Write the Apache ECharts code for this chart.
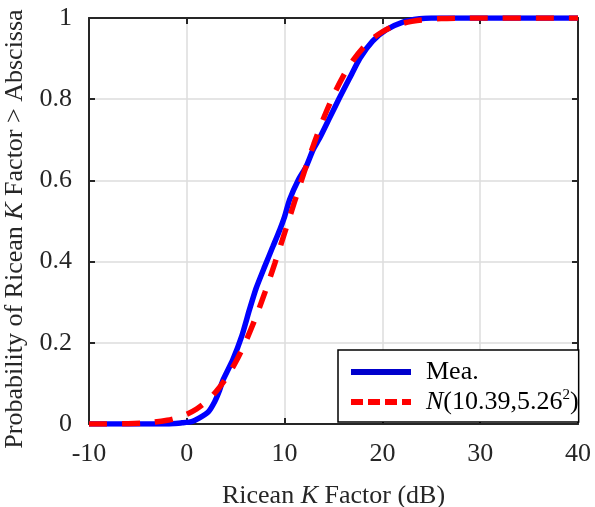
<!DOCTYPE html>
<html>
<head>
<meta charset="utf-8">
<script src="https://cdn.jsdelivr.net/npm/echarts@6/dist/echarts.min.js"></script>
<style>html,body{margin:0;padding:0;background:#fff;}#c{width:595px;height:507px;}</style>
</head>
<body>
<div id="c"></div>
<script>
// Measured CDF (blue)
var meaX = [-10, -2, -0.5, 0.5, 1.3, 2.2, 2.85, 3.3, 3.7, 4.7, 5.6, 6.4, 7.1, 7.95, 8.8, 9.5, 10.0, 10.5, 11.4, 12.2, 12.9, 13.6, 14.6, 15.6, 16.65, 17.7, 19.0, 20.4, 22.1, 23.8, 25, 40];
var meaY = [0, 0, 0.003, 0.006, 0.015, 0.03, 0.055, 0.08, 0.108, 0.158, 0.215, 0.281, 0.335, 0.387, 0.437, 0.478, 0.511, 0.552, 0.601, 0.634, 0.675, 0.705, 0.754, 0.803, 0.852, 0.901, 0.943, 0.971, 0.990, 0.998, 1, 1];
// Normal fit N(10.39, 5.26^2) (red dashed)
var fitX = [-10, -6, -4, -2, -1, 0, 1, 2, 3, 4, 5, 6, 7, 8, 9, 10, 11, 12, 13, 14, 15, 16, 17, 18, 19, 20, 21, 22, 23, 24, 26, 28, 30, 40];
var fitY = [0.00005, 0.0009, 0.0031, 0.0092, 0.0152, 0.0241, 0.0371, 0.0554, 0.0800, 0.1122, 0.1527, 0.2019, 0.2597, 0.3249, 0.3958, 0.4705, 0.5462, 0.6202, 0.6901, 0.7537, 0.8096, 0.8569, 0.8955, 0.9260, 0.9492, 0.9661, 0.9782, 0.9863, 0.9917, 0.9952, 0.9985, 0.9996, 0.9999, 1.0];
var xTicks = [-10, 0, 10, 20, 30, 40];
var yTicks = [0, 0.2, 0.4, 0.6, 0.8, 1];
var seriesNames = ['Mea.', 'N(10.39,5.26²)'];

function zip(a, b) { return a.map(function (v, i) { return [v, b[i]]; }); }

var FONT = '"Liberation Serif", "Times New Roman", serif';
var TXT = '#262626';
var chart = echarts.init(document.getElementById('c'), null, { renderer: 'canvas' });

function baseAxis(extra) {
  return Object.assign({
    type: 'value',
    axisLine: { show: true, onZero: false, lineStyle: { color: TXT, width: 2 } },
    axisTick: { show: true, inside: true, length: 6, lineStyle: { color: TXT, width: 2 } },
    axisLabel: { show: true, fontFamily: FONT, fontSize: 26, color: TXT },
    splitLine: { show: true, lineStyle: { color: '#dcdcdc', width: 1.5 } }
  }, extra);
}

chart.setOption({
  animation: false,
  backgroundColor: '#fff',
  grid: { left: 89, top: 18, right: 17, bottom: 83, containLabel: false, outerBoundsMode: 'none' },
  xAxis: [
    baseAxis({
      min: xTicks[0], max: xTicks[xTicks.length - 1], interval: 10, position: 'bottom',
      axisLabel: { show: true, fontFamily: FONT, fontSize: 26, color: TXT, margin: 17 },
      name: 'Ricean {i|K} Factor (dB)', nameLocation: 'middle', nameGap: 59,
      nameTextStyle: { fontFamily: FONT, fontSize: 26, color: TXT,
        rich: { i: { fontFamily: FONT, fontSize: 26, color: TXT, fontStyle: 'italic' } } }
    }),
    baseAxis({
      min: xTicks[0], max: xTicks[xTicks.length - 1], interval: 10, position: 'top',
      axisLabel: { show: false }, splitLine: { show: false }
    })
  ],
  yAxis: [
    baseAxis({
      min: yTicks[0], max: yTicks[yTicks.length - 1], interval: 0.2, position: 'left',
      axisLabel: { show: true, fontFamily: FONT, fontSize: 26, color: TXT, margin: 17 },
      name: 'Probability of Ricean {i|K} Factor > Abscissa', nameLocation: 'middle', nameGap: 59,
      nameTextStyle: { fontFamily: FONT, fontSize: 26, color: TXT, padding: [0, 16, 0, 0],
        rich: { i: { fontFamily: FONT, fontSize: 26, color: TXT, fontStyle: 'italic' } } }
    }),
    baseAxis({
      min: yTicks[0], max: yTicks[yTicks.length - 1], interval: 0.2, position: 'right',
      axisLabel: { show: false }, splitLine: { show: false }
    })
  ],
  legend: {
    orient: 'vertical',
    left: 338, top: 350,
    padding: [8, 0, 6, 10],
    itemGap: 2,
    itemWidth: 60, itemHeight: 14,
    backgroundColor: '#fff',
    borderColor: '#000', borderWidth: 1.5, borderRadius: 0,
    data: [
      { name: seriesNames[0], itemStyle: { opacity: 0 }, lineStyle: { width: 6, color: '#0000cc' } },
      { name: seriesNames[1], itemStyle: { opacity: 0 }, lineStyle: { width: 6, type: [12, 5] } }
    ],
    formatter: function (n) {
      if (n === seriesNames[1]) return '{i|N}{t|(10.39,5.26}{s|2}{t|)}';
      return '{m|' + n + '}';
    },
    textStyle: {
      fontFamily: FONT, fontSize: 26, color: '#000', lineHeight: 28,
      rich: {
        t: { fontFamily: FONT, fontSize: 26, color: '#000', lineHeight: 28 },
        m: { fontFamily: FONT, fontSize: 26, color: '#000', lineHeight: 28, padding: [0, 0, 0, 10] },
        i: { fontFamily: FONT, fontSize: 26, color: '#000', lineHeight: 28, fontStyle: 'italic', padding: [0, 0, 0, 10] },
        s: { fontFamily: FONT, fontSize: 15, color: '#000', verticalAlign: 'top', lineHeight: 15 }
      }
    }
  },
  series: [
    {
      name: seriesNames[0], type: 'line', xAxisIndex: 0, yAxisIndex: 0,
      data: zip(meaX, meaY), showSymbol: false, symbol: 'none', smooth: 0.2,
      lineStyle: { color: '#0000ff', width: 5.5 }, itemStyle: { color: '#0000ff' }, z: 3
    },
    {
      name: seriesNames[1], type: 'line', xAxisIndex: 0, yAxisIndex: 0,
      data: zip(fitX, fitY), showSymbol: false, symbol: 'none', smooth: 0.3,
      lineStyle: { color: '#ff0000', width: 5.5, type: [18, 15] }, itemStyle: { color: '#ff0000' }, z: 4
    }
  ]
});
</script>
</body>
</html>
